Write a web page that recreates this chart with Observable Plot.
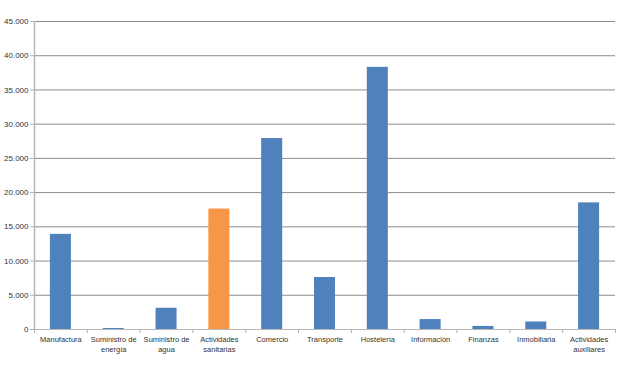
<!DOCTYPE html>
<html><head><meta charset="utf-8">
<script src="https://cdn.jsdelivr.net/npm/d3@7"></script>
<script src="https://cdn.jsdelivr.net/npm/@observablehq/plot@0.6"></script>
<style>body{margin:0;background:#fff;} svg{display:block;}</style>
</head><body><div id="chart"></div>
<script>
const categories = ["Manufactura","Suministro de\nenergía","Suministro de\nagua","Actividades\nsanitarias","Comercio","Transporte","Hostelería","Información","Finanzas","Inmobiliaria","Actividades\nauxiliares"];
const values = [13900, 150, 3100, 17600, 27900, 7600, 38300, 1450, 450, 1100, 18500];
const highlight = ["Actividades\nsanitarias"];
const yTicks = [0,5000,10000,15000,20000,25000,30000,35000,40000,45000];

const data = categories.map((c,i)=>({c, v: values[i], i}));
const fmt = d => d3.format(",")(d).replace(/,/g, ".");

const chart = Plot.plot({
  width: 620, height: 368,
  marginLeft: 34, marginRight: 5, marginTop: 21, marginBottom: 39,
  style: {fontFamily: "Liberation Sans, Arial, sans-serif", fontSize: "8px", color: "#333"},
  x: {domain: [0, categories.length], axis: null},
  y: {domain: [0, 45000], axis: null},
  marks: [
    Plot.gridY(yTicks, {stroke: "#8c8c8c", strokeOpacity: 1}),
    Plot.axisY({ticks: yTicks, tickFormat: fmt, tickSize: 4, tickPadding: 2, stroke: "#b0b0b0", fill: "#333", label: null}),
    Plot.axisX({ticks: d3.range(categories.length + 1), tickFormat: () => "", tickSize: 4, stroke: "#b0b0b0", label: null}),
    Plot.rectY(data, {x1: d => d.i, x2: d => d.i + 1, y: "v", insetLeft: 15.9, insetRight: 15.9,
      fill: d => highlight.includes(d.c) ? "#F79646" : "#4F81BD"}),
    Plot.ruleX([0], {stroke: "#b8b8b8", strokeWidth: 1.5}),
    Plot.ruleY([0], {stroke: "#b8b8b8", strokeWidth: 1}),
    Plot.text(data, {x: d => d.i + 0.5, y: 0, text: "c", dy: 6, lineAnchor: "top", lineHeight: 1.3, fontSize: 7.5, fill: "#333"})
  ]
});
document.getElementById("chart").append(chart);
</script></body></html>
